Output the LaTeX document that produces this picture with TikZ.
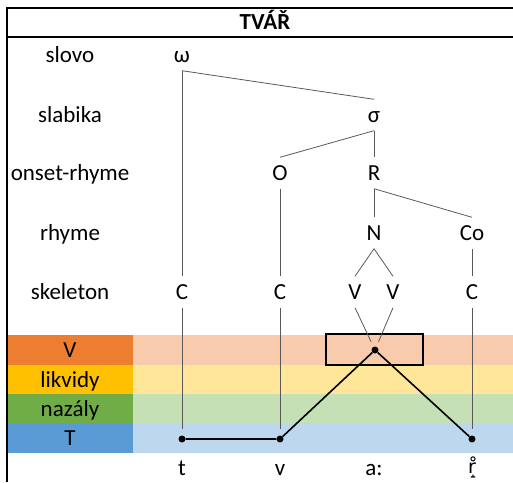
\documentclass[tikz,border=0pt]{standalone}
\usepackage{fontspec}
\setmainfont{Carlito}
\newfontfamily\ipafont{DejaVu Sans}
\usepackage{tikz}
\usetikzlibrary{positioning,calc}
\definecolor{vdark}{HTML}{ED7D31}
\definecolor{vlight}{HTML}{F8CBAD}
\definecolor{ldark}{HTML}{FFC000}
\definecolor{llight}{HTML}{FFE699}
\definecolor{ndark}{HTML}{70AD47}
\definecolor{nlight}{HTML}{C5E0B4}
\definecolor{tdark}{HTML}{5B9BD5}
\definecolor{tlight}{HTML}{BDD7EE}
\tikzset{
  lbl/.style={inner xsep=2pt, inner ysep=6pt, text height=17pt, text depth=2pt,
    font=\fontsize{23}{26}\selectfont},
  tree/.style={draw=black!65, line width=0.8pt},
  path/.style={draw=black, line width=1.6pt},
  dot/.style={circle, fill=black, inner sep=0pt, minimum size=7pt},
}

\begin{document}
\begin{tikzpicture}[x = 1pt, y = -1pt]
\useasboundingbox (0,0) rectangle (513,482);

% bands
\fill[vlight] (133,335) rectangle (513,365);
\fill[llight] (133,365) rectangle (513,394);
\fill[nlight] (133,394) rectangle (513,423);
\fill[tlight] (133,423) rectangle (513,453);
\node[lbl, fill=vdark, minimum width=126pt, minimum height=30pt, inner sep=0pt] (bv) at (70,350) {V};
\node[lbl, fill=ldark, minimum width=126pt, minimum height=29pt, inner sep=0pt] (bl) at (70,379.5) {likvidy};
\node[lbl, fill=ndark, minimum width=126pt, minimum height=29pt, inner sep=0pt] (bn) at (70,408.5) {nazály};
\node[lbl, fill=tdark, minimum width=126pt, minimum height=30pt, inner sep=0pt] (bt) at (70,438) {T};

% frame
\draw[line width=1.4pt] (7,482) -- (7,8) -- (513,8);
\draw[line width=1.4pt] (7,37) -- (513,37);
\node[lbl, font=\fontsize{23}{26}\selectfont\bfseries] (title) at (265,22) {TVÁŘ};

% tiers
\node[lbl] (slovo) at (70,55) {slovo};
\node[lbl] (slabika) at (70,115) {slabika};
\node[lbl] (onrh) at (70,173) {onset-rhyme};
\node[lbl] (rhyme) at (70,233) {rhyme};
\node[lbl] (skel) at (70,292) {skeleton};

\node[lbl] (w) at (182,55) {ω};
\node[lbl] (s) at (374,115) {σ};
\node[lbl] (o) at (280,173) {O};
\node[lbl] (r) at (374,173) {R};
\node[lbl] (n) at (374,233) {N};
\node[lbl] (co) at (472,233) {Co};
\node[lbl] (c1) at (182,292) {C};
\node[lbl] (c2) at (280,292) {C};
\node[lbl] (v1) at (355,292) {V};
\node[lbl] (v2) at (393,292) {V};
\node[lbl] (c3) at (472,292) {C};

\node[draw, line width=1.4pt, minimum width=97pt, minimum height=31pt, inner sep=0pt] (box) at (374.5,349.5) {};

\node[dot] (dt) at (182,439) {};
\node[dot] (dv) at (280,439) {};
\node[dot] (da) at (375,350) {};
\node[dot] (dr) at (472,439) {};

\node[lbl] (pt) at (182,468) {t};
\node[lbl] (pv) at (280,468) {v};
\node[lbl] (pa) at (374,468) {a:};
\node[lbl, font=\fontsize{19}{22}\ipafont] (pr) at (472,466) {r̝̊};

\draw[tree] (w.south) -- (c1.north);
\draw[tree] (w.south) -- (s.north);
\draw[tree] (s.south) -- (o.north);
\draw[tree] (s.south) -- (r.north);
\draw[tree] (o.south) -- (c2.north);
\draw[tree] (r.south) -- (n.north);
\draw[tree] (r.south) -- (co.north);
\draw[tree] (n.south) -- (v1.north);
\draw[tree] (n.south) -- (v2.north);
\draw[tree] (co.south) -- (c3.north);
\draw[tree, shorten >=9pt] (v1.south) -- (da.center);
\draw[tree, shorten >=9pt] (v2.south) -- (da.center);
\draw[tree, shorten >=10pt] (c1.south) -- (dt.center);
\draw[tree, shorten >=10pt] (c2.south) -- (dv.center);
\draw[tree, shorten >=10pt] (c3.south) -- (dr.center);

\draw[path] (dt) -- (dv) -- (da) -- (dr);

\end{tikzpicture}
\end{document}
